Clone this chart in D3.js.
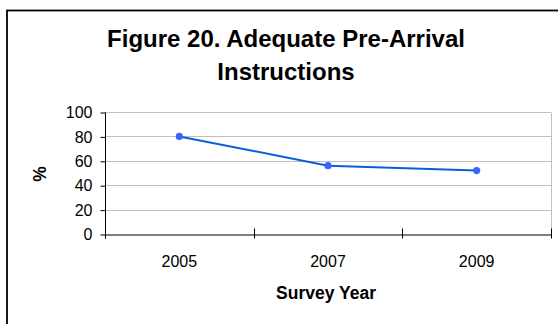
<!DOCTYPE html>
<html>
<head>
<meta charset="utf-8">
<script src="https://cdn.jsdelivr.net/npm/d3@7/dist/d3.min.js"></script>
<style>
  html, body { margin: 0; padding: 0; background: #fff; }
  svg { display: block; font-family: "Liberation Sans", Arial, sans-serif; }
</style>
</head>
<body>
<svg id="chart" width="558" height="324"></svg>
<script>
// Survey results: share of callers who received adequate pre-arrival instructions
const years = ["2005", "2007", "2009"];
const percentValues = [80, 56, 52];
const yTickValues = [0, 20, 40, 60, 80, 100];
const titleLines = ["Figure 20. Adequate Pre-Arrival", "Instructions"];
const xAxisTitle = "Survey Year";
const yAxisTitle = "%";

const svg = d3.select("#chart");
const W = 558, H = 324;
const plot = { left: 105, right: 551, top: 112, bottom: 234 };

svg.append("rect").attr("width", W).attr("height", H).attr("fill", "#fff");

// chart-area frame (extends past the right and bottom edges)
svg.append("rect")
  .attr("x", 7).attr("y", 10.5)
  .attr("width", 620).attr("height", 400)
  .attr("fill", "none").attr("stroke", "#000").attr("stroke-width", 1.8);

const x = d3.scaleBand().domain(years).range([plot.left, plot.right]).padding(0);
const y = d3.scaleLinear().domain([0, 100]).range([plot.bottom, plot.top]);

// gridlines
svg.append("g").selectAll("line")
  .data(yTickValues.filter(v => v > 0))
  .join("line")
  .attr("x1", plot.left).attr("x2", plot.right)
  .attr("y1", d => Math.round(y(d)) + 0.5).attr("y2", d => Math.round(y(d)) + 0.5)
  .attr("stroke", "#c0c0c0").attr("stroke-width", 1);

// right plot border
svg.append("line")
  .attr("x1", plot.right + 0.5).attr("x2", plot.right + 0.5)
  .attr("y1", plot.top + 0.5).attr("y2", plot.bottom)
  .attr("stroke", "#c0c0c0").attr("stroke-width", 1);

// y axis
const yAxis = svg.append("g")
  .attr("transform", `translate(${plot.left + 0.5},0.5)`)
  .call(d3.axisLeft(y).tickValues(yTickValues).tickSize(5).tickSizeOuter(0).tickPadding(8));
yAxis.select(".domain").attr("stroke", "#000").attr("d", `M0,${plot.top}V${plot.bottom + 4}`);
yAxis.selectAll(".tick line").attr("stroke", "#000");
yAxis.selectAll(".tick text").attr("font-size", 16).attr("fill", "#000")
  .attr("font-family", "Liberation Sans, Arial, sans-serif");

// x axis: category labels centred in each band
const xAxis = svg.append("g")
  .attr("transform", `translate(0,${plot.bottom + 0.5})`)
  .call(d3.axisBottom(x).tickSize(0).tickPadding(21).tickSizeOuter(0));
xAxis.select(".domain").attr("stroke", "#000");
xAxis.selectAll(".tick text").attr("font-size", 16).attr("fill", "#000")
  .attr("font-family", "Liberation Sans, Arial, sans-serif");

// boundary tick marks between categories
const boundaries = years.map(d => x(d) + x.bandwidth()).concat([x(years[0])]);
xAxis.append("g").selectAll("line")
  .data(boundaries)
  .join("line")
  .attr("x1", d => Math.round(d) + 0.5).attr("x2", d => Math.round(d) + 0.5)
  .attr("y1", -6).attr("y2", 4)
  .attr("stroke", "#000").attr("stroke-width", 1);

// data line
const pts = years.map((yr, i) => ({ yr, v: percentValues[i] }));
svg.append("path")
  .datum(pts)
  .attr("fill", "none")
  .attr("stroke", "#0a5fd6")
  .attr("stroke-width", 2)
  .attr("d", d3.line().x(d => x(d.yr) + x.bandwidth() / 2).y(d => y(d.v)));

svg.append("g").selectAll("circle")
  .data(pts)
  .join("circle")
  .attr("cx", d => x(d.yr) + x.bandwidth() / 2)
  .attr("cy", d => y(d.v))
  .attr("r", 3.6)
  .attr("fill", "#3366ff");

// title
svg.append("text")
  .attr("x", 286).attr("y", 47)
  .attr("text-anchor", "middle")
  .attr("font-size", 24).attr("font-weight", "bold")
  .selectAll("tspan")
  .data(titleLines)
  .join("tspan")
  .attr("x", 286)
  .attr("dy", (d, i) => i === 0 ? 0 : 33)
  .text(d => d);

// axis titles
svg.append("text")
  .attr("x", (plot.left + plot.right) / 2 - 2).attr("y", 299)
  .attr("text-anchor", "middle")
  .attr("font-size", 17.5).attr("font-weight", "bold")
  .text(xAxisTitle);

svg.append("text")
  .attr("transform", `translate(46,${(plot.top + plot.bottom) / 2 + 1}) rotate(-90)`)
  .attr("text-anchor", "middle")
  .attr("font-size", 17.5).attr("font-weight", "bold")
  .text(yAxisTitle);
</script>
</body>
</html>
